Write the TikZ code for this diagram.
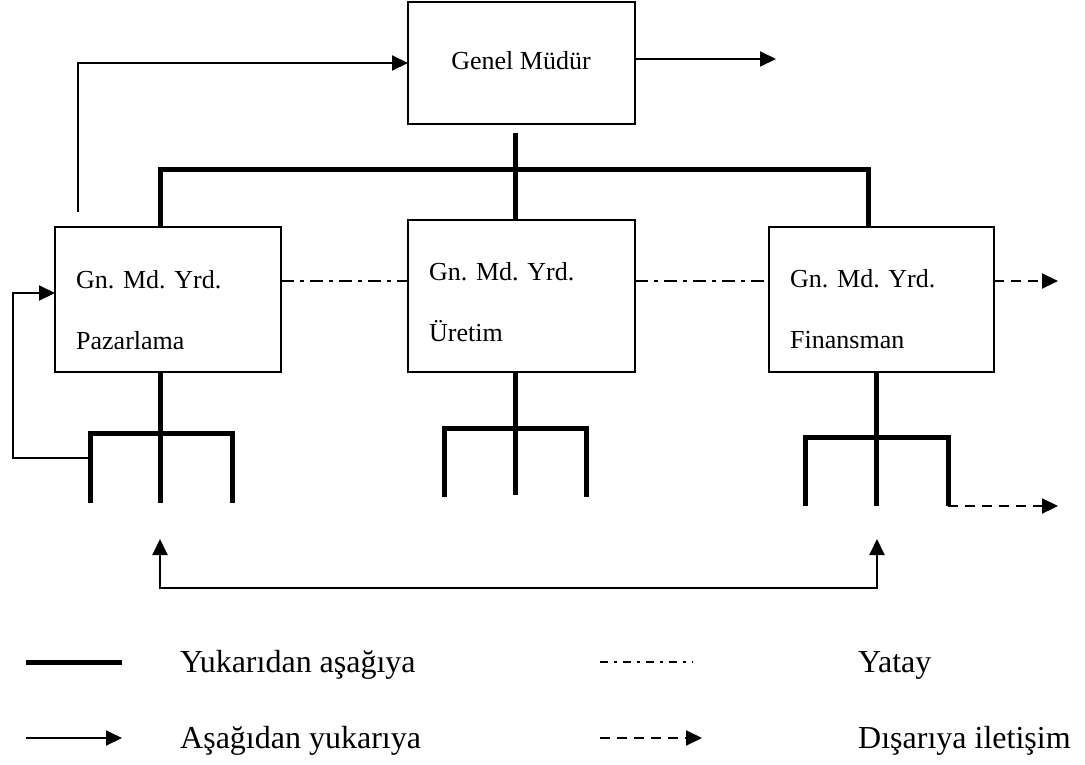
\documentclass[tikz,border=0pt]{standalone}
\usepackage{fontspec}
\setmainfont{Liberation Serif}
\usetikzlibrary{arrows.meta,calc}
\begin{document}
\begin{tikzpicture}[x=1pt,y=-1pt,
 box/.style={draw,line width=1.8pt,inner sep=0pt,outer sep=0pt},
 boxtext/.style={anchor=base west,inner sep=0pt,font=\fontsize{26}{30}\selectfont},
 legtext/.style={anchor=base west,inner sep=0pt,font=\fontsize{32}{36}\selectfont},
 thickline/.style={line width=5pt},
 upline/.style={line width=2pt,-{Triangle[length=16pt,width=15pt]}},
 horiz/.style={line width=2.2pt,dash pattern=on 13pt off 6pt on 4pt off 6pt},
 legdd/.style={line width=2.2pt,dash pattern=on 8pt off 6pt on 3pt off 6pt},
 outline/.style={line width=2.2pt,dash pattern=on 10pt off 7pt,-{Triangle[length=16pt,width=15pt]}}]
\useasboundingbox (0,0) rectangle (1085,764);

% boxes
\node[box,minimum width=227pt,minimum height=122pt] (gm) at (521.5,63) {};
\node[box,minimum width=226pt,minimum height=145pt] (paz) at (168,299.5) {};
\node[box,minimum width=227pt,minimum height=152pt] (ure) at (521.5,296) {};
\node[box,minimum width=225pt,minimum height=145pt] (fin) at (881.5,299.5) {};

% texts
\node[anchor=base,inner sep=0pt,font=\fontsize{26}{30}\selectfont] (gmt) at (521,69) {Genel Müdür};
\node[boxtext] (pazA) at (76,288) {Gn. Md. Yrd.};
\node[boxtext] (pazB) at (76,349) {Pazarlama};
\node[boxtext] (ureA) at (429,280) {Gn. Md. Yrd.};
\node[boxtext] (ureB) at (429,341) {Üretim};
\node[boxtext] (finA) at (790,287) {Gn. Md. Yrd.};
\node[boxtext] (finB) at (790,348) {Finansman};

% top-down hierarchy
\coordinate (gmstem) at (515,133);
\coordinate (bL) at (160,169);
\coordinate (bR) at (868,169);
\draw[thickline] (gmstem) -- (gmstem |- ure.north);
\draw[thickline] (bL |- paz.north) -- (bL) -- (bR) -- (bR |- fin.north);

% forks
\coordinate (pf) at (160,433);
\draw[thickline] (pf |- paz.south) -- (pf) -- (160,503);
\draw[thickline] (90,503) -- (90,433) -- (232,433) -- (232,503);
\coordinate (uf) at (515,428);
\draw[thickline] (uf |- ure.south) -- (uf) -- (515,495);
\draw[thickline] (444,497) -- (444,428) -- (586,428) -- (586,497);
\coordinate (ff) at (876,437);
\draw[thickline] (ff |- fin.south) -- (ff) -- (876,506);
\draw[thickline] (805,506) -- (805,437) -- (948,437) -- (948,506);

% bottom-up
\coordinate (upstart) at (77.5,212);
\draw[upline] (upstart) |- (gm.west);
\coordinate (fb) at (88,458);
\coordinate (fbL) at (13,458);
\coordinate (fbT) at (13,293);
\draw[upline] (fb) -- (fbL) -- (fbT) -- (fbT -| paz.west);
\coordinate (ba) at (160,539);
\coordinate (bl) at (160,588);
\coordinate (bb) at (877,539);
\draw[line width=2pt,{Triangle[length=16pt,width=15pt]}-{Triangle[length=16pt,width=15pt]}] (ba) -- (bl) -| (bb);

% horizontal
\draw[horiz] ($(paz.east)+(0,-18.5)$) -- ($(ure.west)+(0,-15)$);
\draw[horiz] ($(ure.east)+(0,-15)$) -- ($(fin.west)+(0,-18.5)$);

% outward
\coordinate (gmout) at (776,59);
\draw[upline] (gm.east |- gmout) -- (gmout);
\coordinate (finout) at (1058,281);
\draw[outline] ($(fin.east)+(0,-18.5)$) -- (finout);
\coordinate (forkout) at (948,506);
\coordinate (forkend) at (1058,506);
\draw[outline] (forkout) -- (forkend);

% legend
\coordinate (l1a) at (26,662); \coordinate (l1b) at (122,662);
\draw[thickline] (l1a) -- (l1b);
\node[legtext] (lt1) at (180,672) {Yukarıdan aşağıya};
\coordinate (l2a) at (600,662); \coordinate (l2b) at (693,662);
\draw[legdd] (l2a) -- (l2b);
\node[legtext] (lt2) at (858,672) {Yatay};
\coordinate (l3a) at (26,738); \coordinate (l3b) at (122,738);
\draw[upline] (l3a) -- (l3b);
\node[legtext] (lt3) at (180,748) {Aşağıdan yukarıya};
\coordinate (l4a) at (600,738); \coordinate (l4b) at (702,738);
\draw[outline] (l4a) -- (l4b);
\node[legtext] (lt4) at (858,748) {Dışarıya iletişim};
\end{tikzpicture}
\end{document}
